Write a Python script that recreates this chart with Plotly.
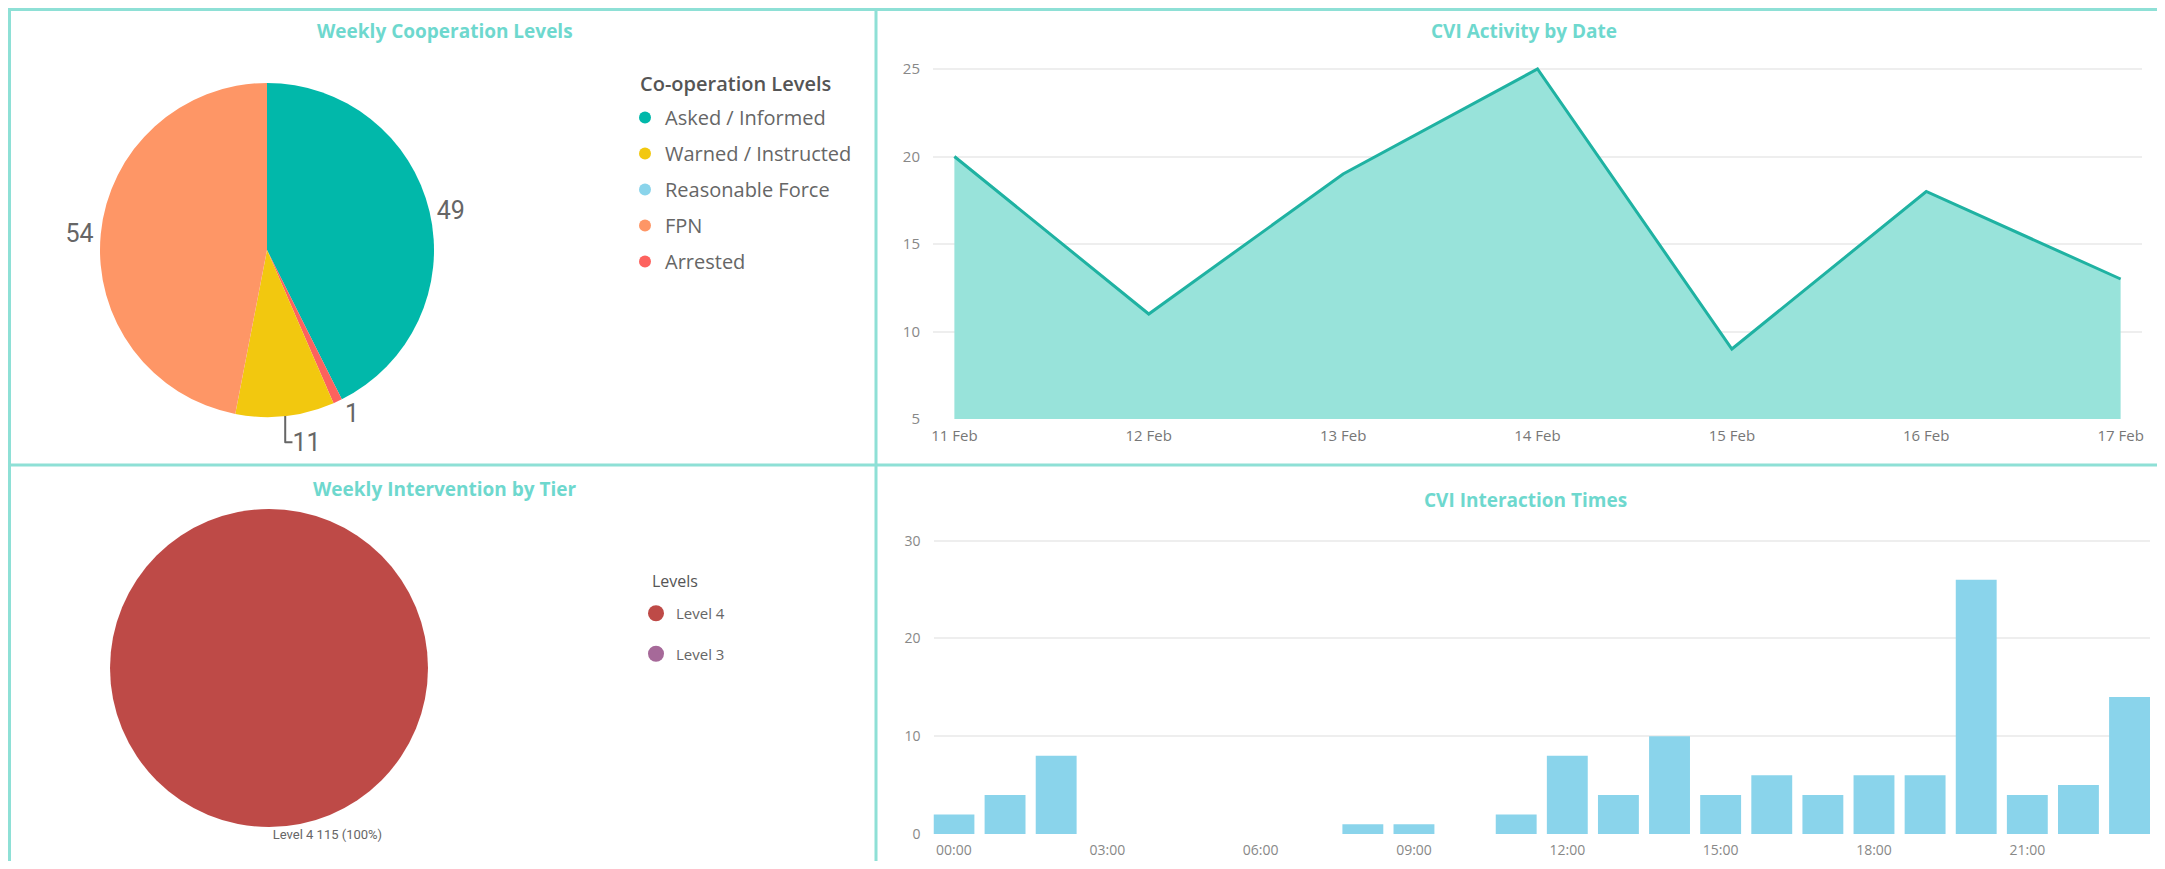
import plotly.graph_objects as go

W, H = 2165, 869
OFF = 8                      # default page margin of the html body
FW, FH = W - 2 * OFF, H - 2 * OFF

# ---------------- data ----------------
coop_labels = ["Asked / Informed", "Warned / Instructed", "Reasonable Force", "FPN", "Arrested"]
coop_values = [49, 11, 0, 54, 1]
coop_colors = ["#01B8AA", "#F2C80F", "#8AD4EB", "#FE9666", "#FD625E"]
coop_draw_order = ["Asked / Informed", "Arrested", "Reasonable Force", "Warned / Instructed", "FPN"]

tier_labels = ["Level 4", "Level 3"]
tier_values = [115, 0]
tier_colors = ["#BE4A47", "#A66999"]

dates = ["11 Feb", "12 Feb", "13 Feb", "14 Feb", "15 Feb", "16 Feb", "17 Feb"]
activity = [20, 11, 19, 25, 9, 18, 13]

hours = ["00:00", "01:00", "02:00", "03:00", "04:00", "05:00", "06:00", "07:00",
         "08:00", "09:00", "10:00", "11:00", "12:00", "13:00", "14:00", "15:00",
         "16:00", "17:00", "18:00", "19:00", "20:00", "21:00", "22:00", "23:00"]
interactions = [2, 4, 8, 0, 0, 0, 0, 0, 1, 1, 0, 2, 8, 4, 10, 4, 6, 4, 6, 6, 26, 4, 5, 14]
hour_ticks = ["00:00", "03:00", "06:00", "09:00", "12:00", "15:00", "18:00", "21:00"]

area_ticks = [5, 10, 15, 20, 25]
bar_ticks = [0, 10, 20, 30]


def px_x(v):
    return (v - OFF) / FW


def px_y(v):
    return 1 - (v - OFF) / FH


TITLE_COLOR = "#6ED8CE"
BORDER = "#8EE0D6"
TICK_FONT = "Open Sans"

fig = go.Figure()

# ---------------- pie 1 ----------------
idx = [coop_labels.index(l) for l in coop_draw_order]
p1_labels = [coop_labels[i] for i in idx]
p1_values = [coop_values[i] for i in idx]
p1_colors = [coop_colors[i] for i in idx]
p1_text = ["%{value}" if v > 0 else "" for v in p1_values]

fig.add_trace(go.Pie(
    labels=p1_labels, values=p1_values, sort=False, direction="clockwise", rotation=0,
    marker=dict(colors=p1_colors, line=dict(width=0)),
    texttemplate=p1_text, textposition="outside",
    textfont=dict(family="Roboto", size=25, color="#666666"),
    showlegend=False, hoverinfo="label+value",
    domain=dict(x=[px_x(100), px_x(434)], y=[px_y(417), px_y(83)]),
))

# ---------------- pie 2 ----------------
p2_text = ["%{label} %{value} (%{percent})" if v > 0 else "" for v in tier_values]
fig.add_trace(go.Pie(
    labels=tier_labels, values=tier_values, sort=False, direction="clockwise", rotation=0,
    marker=dict(colors=tier_colors, line=dict(width=0)),
    texttemplate=p2_text, textposition="outside",
    textfont=dict(family="Roboto", size=13, color="#666666"),
    showlegend=False, hoverinfo="label+value",
    domain=dict(x=[px_x(110), px_x(428)], y=[px_y(827), px_y(509)]),
))

# ---------------- area chart ----------------
fig.add_trace(go.Scatter(
    x=dates, y=activity, mode="lines", fill="tozeroy",
    line=dict(color="#1FB2A2", width=3), fillcolor="#98E3DA",
    showlegend=False, xaxis="x", yaxis="y",
))

# ---------------- bar chart ----------------
fig.add_trace(go.Bar(
    x=hours, y=interactions, marker=dict(color="#8AD4EB", line=dict(width=0)),
    showlegend=False, xaxis="x2", yaxis="y2",
))

# ---------------- legend entries ----------------
for lab, col in zip(coop_labels, coop_colors):
    fig.add_trace(go.Scatter(
        x=[None], y=[None], mode="markers", name=lab,
        marker=dict(color=col, size=12, symbol="circle"),
        legend="legend", legendgroup=lab, xaxis="x3", yaxis="y3",
    ))
for lab, col in zip(tier_labels, tier_colors):
    fig.add_trace(go.Scatter(
        x=[None], y=[None], mode="markers", name=lab,
        marker=dict(color=col, size=16, symbol="circle"),
        legend="legend2", legendgroup=lab, xaxis="x3", yaxis="y3",
    ))

# ---------------- titles ----------------
titles = [
    ("Weekly Cooperation Levels", 445, 31),
    ("CVI Activity by Date", 1524, 31),
    ("Weekly Intervention by Tier", 445, 489),
    ("CVI Interaction Times", 1525, 500),
]
annotations = []
for text, x, y in titles:
    annotations.append(dict(
        text=text, x=px_x(x), y=px_y(y), xref="paper", yref="paper",
        xanchor="center", yanchor="middle", showarrow=False,
        font=dict(family="Open Sans", size=19, color=TITLE_COLOR, weight=700),
    ))

# legend headings
annotations.append(dict(
    text="Co-operation Levels", x=px_x(638), y=px_y(83), xref="paper", yref="paper",
    xanchor="left", yanchor="middle", showarrow=False,
    font=dict(family="Open Sans", size=20, color="#555555", weight=600),
))
annotations.append(dict(
    text="Levels", x=px_x(650), y=px_y(581), xref="paper", yref="paper",
    xanchor="left", yanchor="middle", showarrow=False,
    font=dict(family="Open Sans", size=16, color="#555555"),
))

# ---------------- panel borders ----------------
shapes = [
    dict(type="line", xref="paper", yref="paper", x0=0, x1=1, y0=px_y(9.5), y1=px_y(9.5),
         line=dict(color=BORDER, width=3)),
    dict(type="line", xref="paper", yref="paper", x0=px_x(9.5), x1=px_x(9.5), y0=0, y1=1,
         line=dict(color=BORDER, width=3)),
    dict(type="line", xref="paper", yref="paper", x0=px_x(876), x1=px_x(876), y0=0, y1=1,
         line=dict(color=BORDER, width=3)),
    dict(type="line", xref="paper", yref="paper", x0=0, x1=1, y0=px_y(465), y1=px_y(465),
         line=dict(color=BORDER, width=3)),
]

fig.update_layout(
    width=FW, height=FH,
    margin=dict(l=0, r=0, t=0, b=0, autoexpand=False),
    paper_bgcolor="white", plot_bgcolor="white",
    font=dict(family=TICK_FONT, color="#777777"),
    annotations=annotations, shapes=shapes,
    bargap=0.2,
    xaxis=dict(domain=[px_x(933), px_x(2142)], anchor="y", type="category",
               range=[-0.11, 6.11], showgrid=False, zeroline=False, showline=False,
               automargin=False,
               ticks="", tickfont=dict(size=15, color="#777777"), ticklabelstandoff=6),
    yaxis=dict(domain=[px_y(419), px_y(58.5)], anchor="x", range=[5, 25.6],
               tickvals=area_ticks, gridcolor="#EEEEEE", gridwidth=2, zeroline=False,
               showline=False, ticks="", tickfont=dict(size=15, color="#888888"),
               ticklabelstandoff=12, automargin=False),
    xaxis2=dict(domain=[px_x(933.5), px_x(2150)], anchor="y2", type="category",
                range=[-0.4, 23.4], tickvals=hour_ticks, showgrid=False, zeroline=False,
                showline=False, ticks="", tickfont=dict(size=14, color="#888888"),
                ticklabelstandoff=6, automargin=False),
    yaxis2=dict(domain=[px_y(834), px_y(535.8)], anchor="x2", range=[0, 30.5],
                tickvals=bar_ticks, gridcolor="#EEEEEE", gridwidth=2, zeroline=False,
                showline=False, ticks="", tickfont=dict(size=14, color="#888888"),
                ticklabelstandoff=12, automargin=False),
    xaxis3=dict(domain=[0, 0.001], anchor="y3", visible=False, automargin=False),
    yaxis3=dict(domain=[0, 0.001], anchor="x3", visible=False, automargin=False),
    legend=dict(x=px_x(625), y=px_y(98), xanchor="left", yanchor="top",
                font=dict(family="Open Sans", size=20, color="#666666"),
                tracegroupgap=7, bgcolor="rgba(0,0,0,0)", itemwidth=30),
    legend2=dict(x=px_x(636), y=px_y(597), xanchor="left", yanchor="top",
                 font=dict(family="Open Sans", size=15, color="#666666"),
                 tracegroupgap=18, bgcolor="rgba(0,0,0,0)", itemwidth=30),
)

fig.write_html("out.html")
